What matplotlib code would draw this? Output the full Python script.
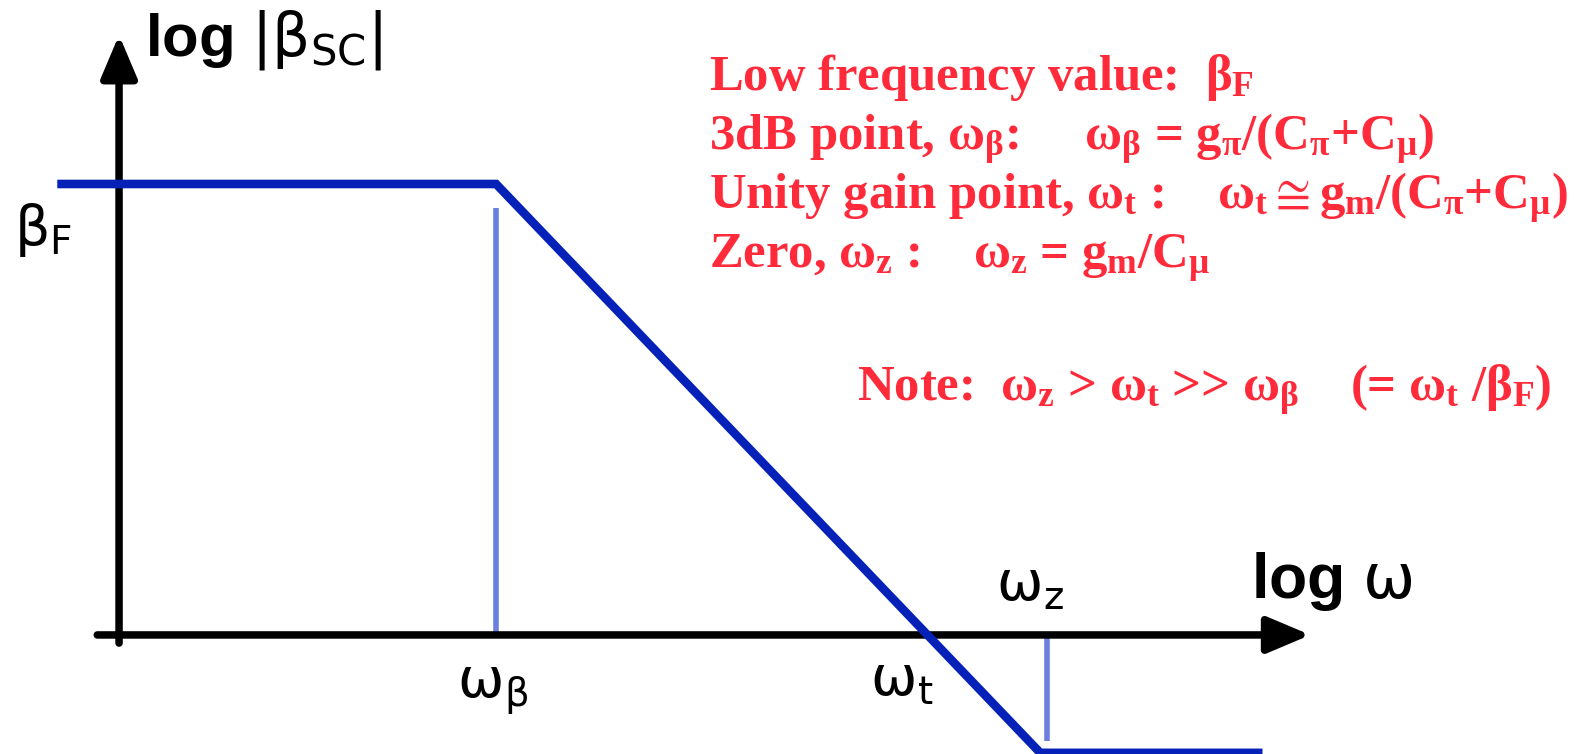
import matplotlib.pyplot as plt

plt.rcParams['mathtext.fontset'] = 'custom'
plt.rcParams['mathtext.rm'] = 'Liberation Serif:bold'
plt.rcParams['mathtext.it'] = 'Liberation Serif:bold'
plt.rcParams['mathtext.bf'] = 'Liberation Serif:bold'

# break frequencies of the short-circuit current gain
beta_F = 100.0
w_beta = 1e6
w_t = 1e8
w_z = 3.6e8

# asymptotic Bode magnitude (piecewise straight on log-log axes)
freq = [9.2e3, 1e6, 3.35e8, 3.6e9]
gain = [100.0, 100.0, 0.3, 0.3]

# drop lines marking the break frequencies
drop_beta = [1.0, 78.0]
drop_z = [1.0, 0.34]

# axis extents (log w from left end to arrow tip, log|beta| up the side)
x_axis = [1.41e4, 6.0e9]
y_axis = [0.92, 458.0]
w_axis = 1.78e4

BLUE = '#0521b8'
LIGHT = '#6a7fe0'
RED = '#ff2a3a'

fig = plt.figure(figsize=(15.79, 7.54), dpi=100)
ax = fig.add_axes([0, 0, 1, 1])
ax.set_xscale('log')
ax.set_yscale('log')
ax.set_xlim(10**3.698, 10**11.025)
ax.set_ylim(10**-0.528, 10**2.816)
ax.axis('off')

# axes with arrow heads
arrow = dict(arrowstyle='-|>,head_length=2.6,head_width=1.1', lw=5.4,
             color='black', shrinkA=0, shrinkB=0)
ax.annotate('', xy=(x_axis[1], 1.0), xytext=(x_axis[0], 1.0),
            arrowprops=arrow, zorder=3)
ax.annotate('', xy=(w_axis, y_axis[1]), xytext=(w_axis, y_axis[0]),
            arrowprops=arrow, zorder=3)

ax.plot([w_beta, w_beta], drop_beta, color=LIGHT, lw=4.0,
        solid_capstyle='butt', zorder=2)
ax.plot([w_z, w_z], drop_z, color=LIGHT, lw=4.0,
        solid_capstyle='butt', zorder=2)
ax.plot(freq, gain, color=BLUE, lw=6.2, solid_joinstyle='miter',
        solid_capstyle='butt', zorder=4)

# black labels
sans = dict(family='Liberation Sans', color='black', math_fontfamily='dejavusans')
ax.text(0.092, 0.926, r'log $|\mathrm{\beta_{SC}}|$', transform=ax.transAxes,
        fontsize=43, fontweight='bold', va='baseline', **sans)
ax.text(0.009, 0.675, r'$\mathrm{\beta_F}$', transform=ax.transAxes,
        fontsize=40, va='baseline', **sans)
ax.text(0.792, 0.207, r'log $\mathrm{\omega}$', transform=ax.transAxes,
        fontsize=45, fontweight='bold', va='baseline', **sans)
ax.annotate(r'$\mathrm{\omega_\beta}$', xy=(w_beta, 1.0), xytext=(-4, -62),
            textcoords='offset pixels', ha='center', va='baseline',
            fontsize=40, **sans)
ax.annotate(r'$\mathrm{\omega_t}$', xy=(w_t, 1.0), xytext=(-25, -60),
            textcoords='offset pixels', ha='center', va='baseline',
            fontsize=40, **sans)
ax.annotate(r'$\mathrm{\omega_z}$', xy=(w_z, 1.0), xytext=(-17, 35),
            textcoords='offset pixels', ha='center', va='baseline',
            fontsize=40, **sans)

# red notes
notes = [
    r'Low frequency value:  $\beta_F$',
    r'3dB point, $\omega_\beta$:     $\omega_\beta$ = $g_\pi$/(C$_\pi$+C$_\mu$)',
    r'Unity gain point, $\omega_t$ :    $\omega_t \cong g_m$/(C$_\pi$+C$_\mu$)',
    r'Zero, $\omega_z$ :    $\omega_z$ = $g_m$/C$_\mu$',
]
note_y = [90, 150, 209, 268]
serif = dict(family='Liberation Serif', fontweight='bold', color=RED, fontsize=36.5)
for s, yp in zip(notes, note_y):
    fig.text(709 / 1579, 1 - yp / 754, s, va='baseline', **serif)
fig.text(857 / 1579, 1 - 401 / 754,
         r'Note:  $\omega_z$ > $\omega_t$ >> $\omega_\beta$    (= $\omega_t$ /$\beta_F$)',
         va='baseline', **serif)

fig.savefig('out.png', dpi=100)
